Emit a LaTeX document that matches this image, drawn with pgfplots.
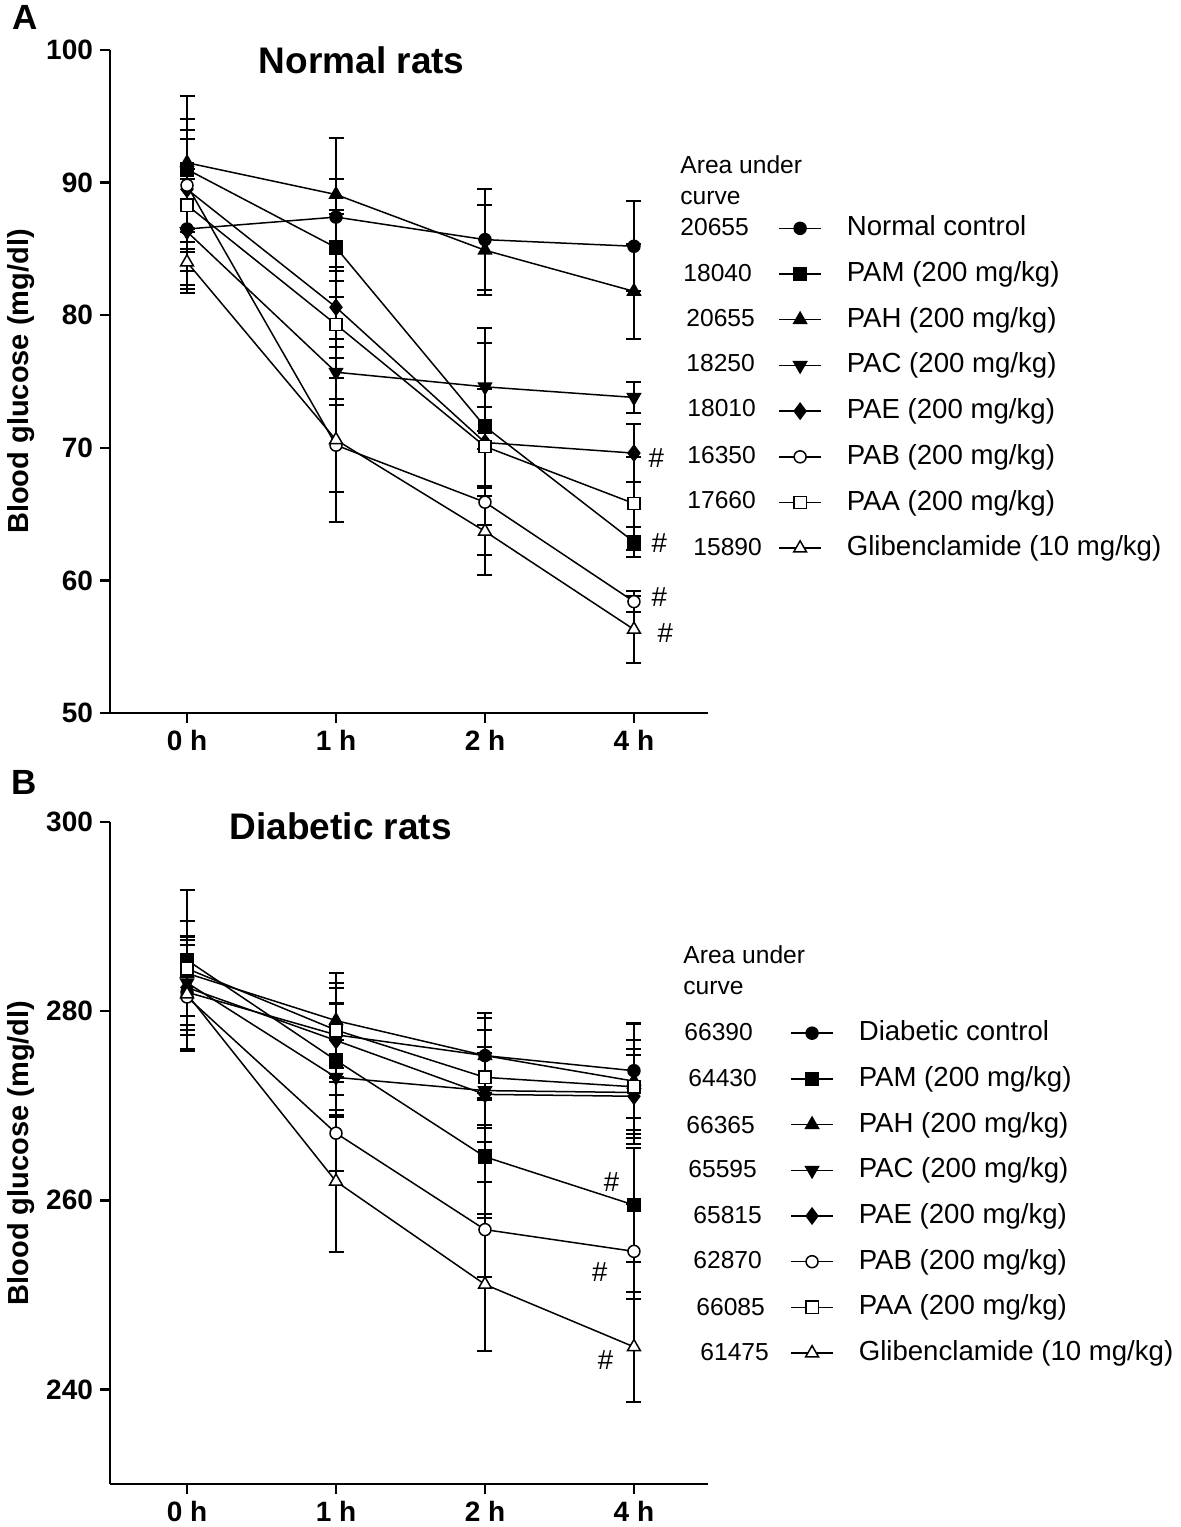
\documentclass[border=0pt]{standalone}
\usepackage{pgfplots}
\pgfplotsset{compat=1.18}
\usepackage{pgfplotstable}
\usepackage{fontspec}
\setmainfont{Liberation Sans}

% Normal rats: mean and error (SEM) at 0 h, 1 h, 2 h, 4 h (plotted at 0,1,2,3)
\pgfplotstableread{
x NC NCe PAM PAMe PAH PAHe PAC PACe PAE PAEe PAB PABe PAA PAAe GL GLe
0 86.5 4.5 91.0 5.5 91.5 5.0 86.3 4.0 89.5 4.5 89.8 5.0 88.3 5.0 84.0 2.3
1 87.4 6.0 85.1 2.5 89.1 1.2 75.7 2.5 80.6 3.0 70.2 3.5 79.3 4.0 70.6 6.2
2 85.7 3.8 71.6 7.4 84.9 3.4 74.6 3.3 70.4 4.0 65.9 4.0 70.1 3.0 63.7 3.3
3 85.2 3.4 62.9 1.1 81.8 3.6 73.8 1.2 69.6 2.2 58.4 0.8 65.8 3.5 56.3 2.5
}\topdata

% Diabetic rats
\pgfplotstableread{
x DC DCe PAM PAMe PAH PAHe PAC PACe PAE PAEe PAB PABe PAA PAAe GL GLe
0 282.0 6.0 285.4 7.4 284.0 5.5 283.0 5.0 282.5 5.0 281.5 5.5 284.5 5.0 281.8 6.0
1 277.5 5.0 274.8 6.0 279.0 5.0 273.0 4.0 276.9 4.0 267.1 4.0 278.0 5.0 262.0 7.5
2 275.3 4.0 264.6 6.0 275.3 4.5 271.6 4.0 271.2 5.0 256.9 5.0 273.0 5.0 251.1 7.0
3 273.7 5.0 259.5 6.0 272.6 6.0 271.4 4.0 271.0 5.0 254.6 5.0 272.0 5.0 244.5 5.8
}\botdata

\newcommand\tickfont{\bfseries\fontsize{14}{16}\selectfont}
\newcommand\legfont{\fontsize{13.8}{16}\selectfont}
\newcommand\numfont{\fontsize{12.3}{14}\selectfont}

\pgfplotsset{
  ser/.style={black, solid, line width=0.75pt,
    mark options={solid, line width=0.6pt},
    error bars/y dir=both, error bars/y explicit,
    error bars/error mark=-,
    error bars/error bar style={line width=1pt, black},
    error bars/error mark options={rotate=90, line width=1pt, mark size=3.75pt, black}},
  mcirc/.style={ser, mark=*, mark size=3pt, mark options={fill=black}},
  msq/.style={ser, mark=square*, mark size=3.3pt, mark options={fill=black}},
  mtri/.style={ser, mark=triangle*, mark size=3.7pt, mark options={fill=black}},
  mtrid/.style={ser, mark=triangle*, mark size=3.7pt, mark options={fill=black, rotate=180}},
  mdia/.style={ser, mark=diamond*, mark size=3.9pt, mark options={fill=black}},
  ocirc/.style={ser, mark=*, mark size=3pt, mark options={fill=white}},
  osq/.style={ser, mark=square*, mark size=3.1pt, mark options={fill=white}},
  otri/.style={ser, mark=triangle*, mark size=3.7pt, mark options={fill=white}},
  panel/.style={
    scale only axis, width=299pt, clip=false,
    axis x line*=bottom, axis y line*=left,
    axis line style={line width=1.2pt, black},
    tick style={line width=1.2pt, black},
    tick align=outside, major tick length=5pt,
    xmin=-0.517, xmax=3.497,
    xtick={0,1,2,3}, xticklabels={0 h,1 h,2 h,4 h},
    xticklabel style={font=\tickfont},
    yticklabel style={font=\tickfont},
    /pgf/number format/assume math mode=true,
    ylabel={Blood glucose (mg/dl)},
    ylabel style={at={(axis description cs:-0.149,0.5)}, anchor=center, rotate=0, font=\bfseries\fontsize{14.5}{16}\selectfont},
    title style={anchor=center, font=\bfseries\fontsize{18.5}{20}\selectfont},
    legend cell align=left,
    legend image code/.code={\draw[mark repeat=2, mark phase=2] plot coordinates {(0pt,0pt) (10.5pt,0pt) (21pt,0pt)};},
    legend style={draw=none, fill=none, inner sep=0pt, anchor=north west,
      font=\legfont, row sep=9.35pt,
      nodes={inner sep=0pt, text height=10.5pt, text depth=3pt},
      /tikz/every odd column/.append style={column sep=12.5pt}},
  },
}

\begin{document}
\begin{tikzpicture}
\useasboundingbox (0,0) rectangle (590.5pt,-763.5pt);

% ---------------- Panel A ----------------
\begin{axis}[panel, height=331.5pt, at={(55pt,-356.5pt)}, anchor=south west,
  ymin=50, ymax=100, ytick={50,60,70,80,90,100},
  title={Normal rats}, title style={at={(axis description cs:0.421,0.967)}},
  legend style={at={(axis description cs:1.117,0.752)}}]
\addplot[mcirc] table[x=x, y=NC, y error=NCe] {\topdata};
\addlegendentry{Normal control}
\addplot[msq] table[x=x, y=PAM, y error=PAMe] {\topdata};
\addlegendentry{PAM (200 mg/kg)}
\addplot[mtri] table[x=x, y=PAH, y error=PAHe] {\topdata};
\addlegendentry{PAH (200 mg/kg)}
\addplot[mtrid] table[x=x, y=PAC, y error=PACe] {\topdata};
\addlegendentry{PAC (200 mg/kg)}
\addplot[mdia] table[x=x, y=PAE, y error=PAEe] {\topdata};
\addlegendentry{PAE (200 mg/kg)}
\addplot[ocirc] table[x=x, y=PAB, y error=PABe] {\topdata};
\addlegendentry{PAB (200 mg/kg)}
\addplot[osq] table[x=x, y=PAA, y error=PAAe] {\topdata};
\addlegendentry{PAA (200 mg/kg)}
\addplot[otri] table[x=x, y=GL, y error=GLe] {\topdata};
\addlegendentry{Glibenclamide (10 mg/kg)}
\node[font=\legfont] at (axis cs:3.15,69.2) {\#};
\node[font=\legfont] at (axis cs:3.17,62.8) {\#};
\node[font=\legfont] at (axis cs:3.17,58.75) {\#};
\node[font=\legfont] at (axis cs:3.21,56.0) {\#};
\end{axis}

% ---------------- Panel B ----------------
\begin{axis}[panel, height=331pt, at={(55pt,-742pt)}, anchor=south west,
  ymin=230, ymax=300, ytick={240,260,280,300},
  title={Diabetic rats}, title style={at={(axis description cs:0.386,0.976)}},
  legend style={at={(axis description cs:1.137,0.702)}}]
\addplot[mcirc] table[x=x, y=DC, y error=DCe] {\botdata};
\addlegendentry{Diabetic control}
\addplot[msq] table[x=x, y=PAM, y error=PAMe] {\botdata};
\addlegendentry{PAM (200 mg/kg)}
\addplot[mtri] table[x=x, y=PAH, y error=PAHe] {\botdata};
\addlegendentry{PAH (200 mg/kg)}
\addplot[mtrid] table[x=x, y=PAC, y error=PACe] {\botdata};
\addlegendentry{PAC (200 mg/kg)}
\addplot[mdia] table[x=x, y=PAE, y error=PAEe] {\botdata};
\addlegendentry{PAE (200 mg/kg)}
\addplot[ocirc] table[x=x, y=PAB, y error=PABe] {\botdata};
\addlegendentry{PAB (200 mg/kg)}
\addplot[osq] table[x=x, y=PAA, y error=PAAe] {\botdata};
\addlegendentry{PAA (200 mg/kg)}
\addplot[otri] table[x=x, y=GL, y error=GLe] {\botdata};
\addlegendentry{Glibenclamide (10 mg/kg)}
\node[font=\legfont] at (axis cs:2.85,261.9) {\#};
\node[font=\legfont] at (axis cs:2.77,252.4) {\#};
\node[font=\legfont] at (axis cs:2.81,243.1) {\#};
\end{axis}

% panel letters
\node[font=\bfseries\fontsize{17.5}{19}\selectfont] at (12.5pt,-8.5pt) {A};
\node[font=\bfseries\fontsize{17.5}{19}\selectfont] at (12pt,-391pt) {B};

% area-under-curve column, panel A
\begin{scope}[every node/.style={anchor=west, inner sep=0pt, font=\numfont}]
\node at (340pt,-82.5pt) {Area under};
\node at (340pt,-99pt) {curve};
\node at (340pt,-113.5pt) {20655};
\node at (341.5pt,-136.5pt) {18040};
\node at (343pt,-159pt) {20655};
\node at (343pt,-181.5pt) {18250};
\node at (343.5pt,-204pt) {18010};
\node at (343.5pt,-227.5pt) {16350};
\node at (343.5pt,-250pt) {17660};
\node at (346.5pt,-273.5pt) {15890};
% panel B
\node at (341.5pt,-477.5pt) {Area under};
\node at (341.5pt,-494pt) {curve};
\node at (342pt,-516pt) {66390};
\node at (344pt,-539pt) {64430};
\node at (343pt,-562.5pt) {66365};
\node at (344pt,-584.5pt) {65595};
\node at (346.5pt,-607.5pt) {65815};
\node at (346.5pt,-630pt) {62870};
\node at (348pt,-653.5pt) {66085};
\node at (350pt,-676pt) {61475};
\end{scope}
\end{tikzpicture}
\end{document}
